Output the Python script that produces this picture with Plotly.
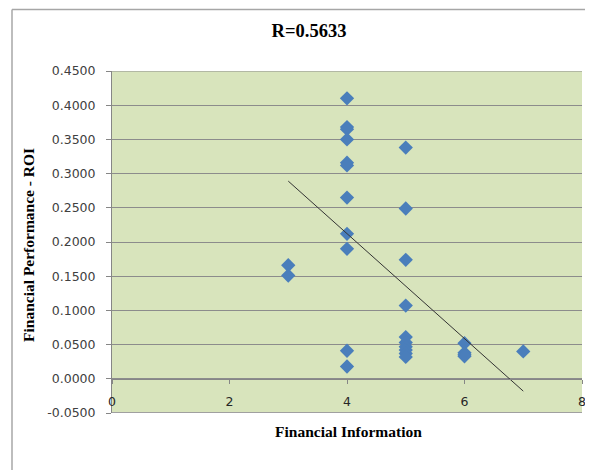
import plotly.graph_objects as go

# Data
x_info = [3, 3,
          4, 4, 4, 4, 4, 4, 4, 4, 4, 4, 4,
          5, 5, 5, 5, 5, 5, 5, 5, 5, 5,
          6, 6, 6, 6,
          7]
y_roi = [0.166, 0.151,
         0.410, 0.368, 0.365, 0.350, 0.316, 0.312, 0.265, 0.212, 0.190, 0.041, 0.018,
         0.338, 0.249, 0.174, 0.107, 0.061, 0.053, 0.047, 0.042, 0.037, 0.032,
         0.052, 0.038, 0.035, 0.033,
         0.040]
trend_x = [3, 7]
trend_y = [0.289, -0.018]
y_ticks = [-0.05, 0.0, 0.05, 0.10, 0.15, 0.20, 0.25, 0.30, 0.35, 0.40, 0.45]
y_tick_labels = [f"{v:.4f}" for v in y_ticks]
x_ticks = [0, 2, 4, 6, 8]

# page body has an 8px margin; figure coordinates are page coordinates minus 8
OFF = 8
FW, FH = 593 - OFF, 470 - OFF
L, R, T, B = 112 - OFF, 582 - OFF, 71 - OFF, 413 - OFF
W, H = R - L, B - T

fig = go.Figure()
fig.add_trace(go.Scatter(
    x=x_info, y=y_roi, mode="markers",
    marker=dict(symbol="diamond", size=11, color="#4a7ebb", line=dict(width=0)),
    showlegend=False, cliponaxis=False))
fig.add_trace(go.Scatter(
    x=trend_x, y=trend_y, mode="lines",
    line=dict(color="#333333", width=1), showlegend=False))

tick_font = dict(family="DejaVu Sans", size=12.5, color="#404040")
fig.update_layout(
    width=FW, height=FH,
    margin=dict(l=L, r=FW - R, t=T, b=FH - B, autoexpand=False),
    paper_bgcolor="white", plot_bgcolor="#d8e4bc",
    title=dict(text="<b>R=0.5633</b>", x=(309 - OFF) / FW, xanchor="center",
               y=1 - (31 - OFF) / FH, yanchor="middle",
               font=dict(family="Liberation Serif", size=18.5, color="black")),
    xaxis=dict(range=[0, 8], tickvals=x_ticks, showgrid=False, zeroline=False,
               anchor="free", position=0.1, showline=True, linecolor="#868686", linewidth=1,
               ticks="outside", ticklen=4, tickcolor="#868686", ticklabelstandoff=7,
               tickfont=dict(family="DejaVu Sans", size=12.5, color="#262626")),
    yaxis=dict(range=[-0.05, 0.45], tickvals=y_ticks, ticktext=y_tick_labels,
               showgrid=True, gridcolor="#8c8c8c", gridwidth=1, zeroline=False,
               showline=True, linecolor="#868686", linewidth=1,
               ticks="outside", ticklen=5, tickcolor="#868686", ticklabelstandoff=8,
               tickfont=tick_font),
    annotations=[
        dict(text="<b>Financial Information</b>", xref="paper", yref="paper",
             x=(348 - OFF - L) / W, y=(B - (431 - OFF)) / H, xanchor="center", yanchor="middle",
             showarrow=False, font=dict(family="Liberation Serif", size=15.5, color="black")),
        dict(text="<b>Financial Performance - ROI</b>", xref="paper", yref="paper",
             x=(28 - OFF - L) / W, y=(B - (245 - OFF)) / H, xanchor="center", yanchor="middle",
             textangle=-90, showarrow=False,
             font=dict(family="Liberation Serif", size=15.5, color="black")),
    ],
    shapes=[
        dict(type="line", xref="paper", yref="y", x0=0, x1=1, y0=-0.05, y1=-0.05,
             line=dict(color="#a0a0a0", width=2)),
        dict(type="line", xref="paper", yref="y", x0=0, x1=1, y0=0.45, y1=0.45,
             line=dict(color="#8c8c8c", width=1)),
        dict(type="line", xref="paper", yref="paper",
             x0=(12 - OFF - L) / W, x1=(12 - OFF - L) / W,
             y0=(B - 480) / H, y1=1 + (T - (9.5 - OFF)) / H,
             line=dict(color="#bdbdbd", width=2), layer="below"),
        dict(type="line", xref="paper", yref="paper",
             x0=(12 - OFF - L) / W, x1=(600 - L) / W,
             y0=1 + (T - (9.5 - OFF)) / H, y1=1 + (T - (9.5 - OFF)) / H,
             line=dict(color="#a6a6a6", width=1.5), layer="below"),
    ],
)
fig.write_html("out.html")
